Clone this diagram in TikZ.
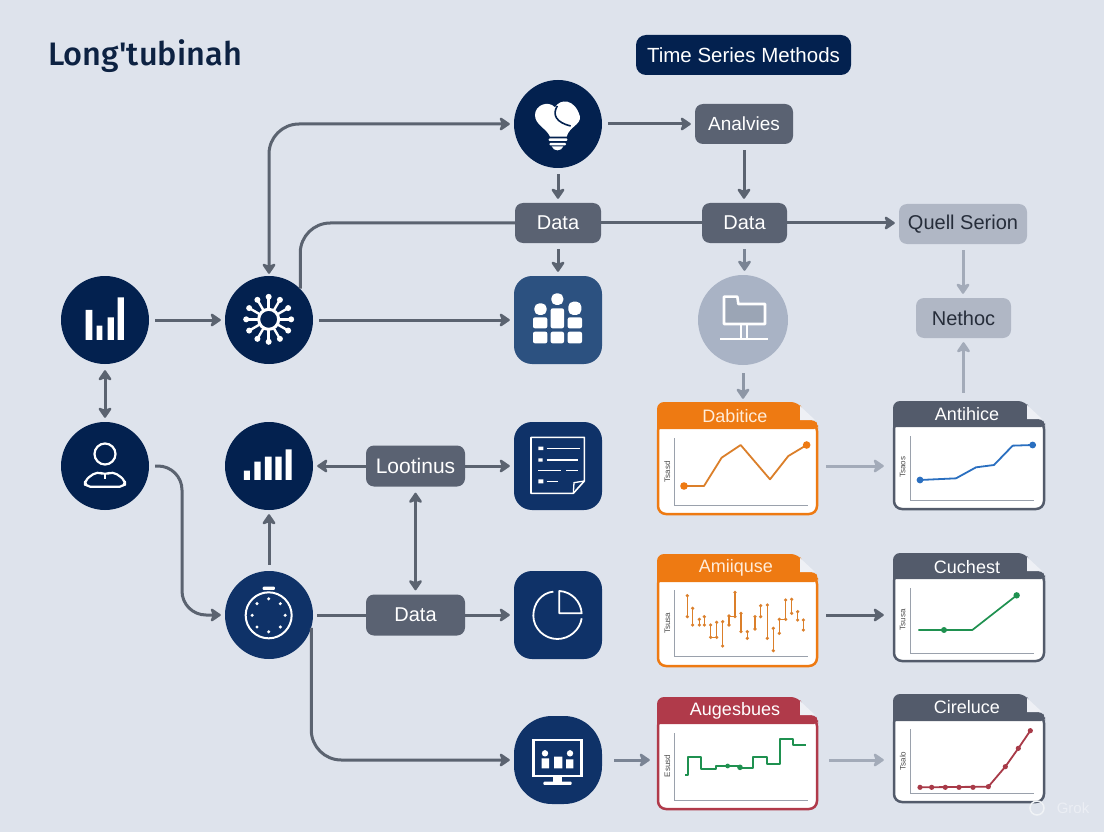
\documentclass[tikz,border=0pt]{standalone}
\usepackage{fontspec}
\setmainfont{Liberation Sans}
\newfontfamily\titlefont{Fira Sans Medium}
\usetikzlibrary{arrows.meta,backgrounds}
\definecolor{bgc}{HTML}{DEE3EC}
\definecolor{navy}{HTML}{03214F}
\definecolor{navyb}{HTML}{0F3268}
\definecolor{navyc}{HTML}{2C5180}
\definecolor{inkt}{HTML}{0D2242}
\definecolor{inkq}{HTML}{262D3A}
\definecolor{greyb}{HTML}{5A6272}
\definecolor{greyc}{HTML}{A9B3C5}
\definecolor{greyd}{HTML}{B0B7C5}
\definecolor{lnk}{HTML}{5B6370}
\definecolor{lnkm}{HTML}{7A8494}
\definecolor{lnkf}{HTML}{8E97A6}
\definecolor{lnkl}{HTML}{A3ABB9}
\definecolor{orng}{HTML}{EE7A12}
\definecolor{redd}{HTML}{B03A4A}
\definecolor{hdrg}{HTML}{535B6B}
\definecolor{foldc}{HTML}{EEF0F5}
\definecolor{chorng}{HTML}{DB7F2A}
\definecolor{chblue}{HTML}{2A6FC0}
\definecolor{chgreen}{HTML}{1F9150}
\definecolor{chred}{HTML}{A83A48}
\definecolor{axisc}{HTML}{9AA1AC}
\tikzset{
  x=1pt,y=-1pt,
  >={Stealth[length=12pt,width=16pt,inset=3pt,round]},
  zm/.style 2 args={shift={(#1,#2)},x=0.33333pt,y=-0.33333pt},
  conn/.style={draw=lnk,line width=3pt,->,shorten >=4pt,shorten <=6pt},
  plain/.style={draw=lnk,line width=3pt},
  iconc/.style={circle,minimum size=88pt,inner sep=0pt,fill=navy},
  icons/.style={rectangle,rounded corners=18pt,minimum size=88pt,inner sep=0pt,fill=navyb},
  tagbox/.style={rectangle,rounded corners=8pt,fill=greyb,text=white,inner sep=0pt,font=\fontsize{20}{24}\selectfont},
  wline/.style={draw=white,line width=2pt},
  ylab/.style={rotate=90,font=\fontsize{8}{9}\selectfont,text=black!70,inner sep=0pt},
  axisl/.style={draw=axisc,line width=1pt},
  cardtitle/.style={font=\fontsize{18}{22}\selectfont,inner sep=0pt},
}
\newcommand{\chartbox}[7]{%
  \node[inner sep=0pt,minimum width={#4-#2},minimum height={#5-#3}] (#1) at ({(#2+#4)/2},{(#3+#5)/2}) {};
  \filldraw[fill=white,draw=#7,line width=2.5pt,rounded corners=8pt] (#2+1,#6-6) rectangle (#4-1,#5-1);
  \fill[#7,rounded corners=7pt] (#2,#6) -- (#2,#3) -- (#4-20,#3) [sharp corners] -- (#4-18,#3+3) -- (#4-18,#3+18) [rounded corners=4pt] -- (#4-3,#3+18) -- (#4,#3+23) -- (#4,#6) [sharp corners] -- cycle;
  \fill[foldc] (#4-18,#3+4) -- (#4-18,#3+18) -- (#4-3,#3+18) -- cycle;
}
\begin{document}
\begin{tikzpicture}
\useasboundingbox (0,0) rectangle (1104,832);
\fill[bgc] (0,0) rectangle (1104,832);
% title
\node[anchor=west,inner sep=0pt,text=inkt,font=\titlefont\fontsize{32.5}{36}\selectfont] (ttl) at (48,56) {Long'tubinah};
\node[rectangle,rounded corners=10pt,fill=navy,text=white,inner sep=0pt,minimum width=215pt,minimum height=40pt,font=\fontsize{20.5}{26}\selectfont] (tsm) at (743.5,55) {Time Series Methods};
% icon holders
\node[iconc] (c1) at (105,320) {};
\node[iconc] (c2) at (269,320) {};
\node[iconc] (c3) at (558,124) {};
\node[iconc] (c4) at (105,466) {};
\node[iconc] (c5) at (269,466) {};
\node[iconc,fill=navyb] (c6) at (269,615) {};
\node[iconc,fill=greyc,minimum size=90pt] (fold) at (743,320) {};
\node[icons,fill=navyc] (s1) at (558,320) {};
\node[icons] (s2) at (558,466) {};
\node[icons] (s3) at (558,615) {};
\node[icons,rounded corners=38pt] (s4) at (558,760) {};
% tag boxes
\node[tagbox,minimum width=98pt,minimum height=40pt,font=\fontsize{19}{24}\selectfont] (ana) at (744,124) {Analvies};
\node[tagbox,minimum width=86pt,minimum height=40pt] (d1) at (558,223) {Data};
\node[tagbox,minimum width=85pt,minimum height=40pt] (d2) at (744.5,223) {Data};
\node[tagbox,fill=greyd,text=inkq,minimum width=128pt,minimum height=40pt] (quell) at (963,224) {Quell Serion};
\node[tagbox,fill=greyd,text=inkq,minimum width=95pt,minimum height=40pt] (neth) at (963.5,318) {Nethoc};
\node[tagbox,minimum width=99pt,minimum height=41pt,font=\fontsize{21}{24}\selectfont] (loot) at (415.5,466) {Lootinus};
\node[tagbox,minimum width=99pt,minimum height=41pt] (d3) at (415.5,615) {Data};
% chart cards
\chartbox{chA}{657}{402}{818}{515}{429}{orng}
\node[text=orange!15!white,cardtitle] (chAt) at (735,416) {Dabitice};
\chartbox{chB}{893}{401}{1045}{510}{427}{hdrg}
\node[text=white,cardtitle] (chBt) at (967,414) {Antihice};
\chartbox{chC}{657}{554}{818}{667}{582}{orng}
\node[text=orange!15!white,cardtitle] (chCt) at (736,568) {Amiiquse};
\chartbox{chD}{893}{553}{1045}{662}{579}{hdrg}
\node[text=white,cardtitle] (chDt) at (967,567) {Cuchest};
\chartbox{chE}{657}{697}{818}{810}{724}{redd}
\node[text=white,cardtitle] (chEt) at (735,711) {Augesbues};
\chartbox{chF}{893}{694}{1045}{803}{721}{hdrg}
\node[text=white,cardtitle] (chFt) at (967,707) {Cireluce};
% connectors
\draw[conn,<->,rounded corners=30pt,shorten <=2pt] (c2.north) |- (c3.west);
\draw[plain,rounded corners=30pt] (c2.45) |- (d1.west);
\draw[plain] (d1.east) -- (d2.west);
\draw[conn,shorten <=0pt] (d2.east) -- (d2.east -| quell.west);
\draw[conn] (c1.east) -- (c2.west);
\draw[conn] (c2.east) -- (s1.west);
\draw[conn] (c3.east) -- (ana.west);
\draw[conn] (c3.south) -- (d1.north);
\draw[conn] (d1.south) -- (s1.north);
\draw[conn] (ana.south) -- (ana.south |- d2.north);
\draw[conn,draw=lnkm] (d2.south) -- (d2.south |- fold.north);
\draw[conn,draw=lnkf,shorten <=8pt,shorten >=3pt] (fold.south) -- (fold.south |- chA.north);
\draw[conn,draw=lnkl] (quell.south) -- (quell.south |- neth.north);
\draw[conn,draw=lnkl,shorten <=8pt,shorten >=4pt] (neth.south |- chB.north) -- (neth.south);
\draw[conn,draw=lnkl,shorten <=8pt,shorten >=9pt] ([yshift=-7.5pt]chA.east) -- ([yshift=-10.5pt]chB.west);
\draw[conn,shorten <=8pt,shorten >=9pt] ([yshift=-4.5pt]chC.east) -- ([yshift=-7.5pt]chD.west);
\draw[conn,draw=lnkl,shorten <=11pt,shorten >=9pt] ([yshift=-6.5pt]chE.east) -- ([yshift=-11.5pt]chF.west);
\draw[conn,draw=lnkm,shorten <=12pt,shorten >=7pt] (s4.east) -- ([yshift=-6.5pt]chE.west);
\draw[conn,<->] (c1.south) -- (c4.north);
\coordinate (bend) at (182,540);
\draw[conn,rounded corners=24pt] (c4.east) -| (bend) |- (c6.west);
\draw[conn] (c6.north) -- (c5.south);
\draw[conn,shorten <=0pt] (loot.west) -- (c5.east);
\draw[conn,shorten <=0pt] (loot.east) -- (s2.west);
\draw[conn,<->] (loot.south) -- (d3.north);
\draw[plain,shorten <=4pt] (c6.east) -- (d3.west);
\draw[conn,shorten <=0pt] (d3.east) -- (s3.west);
\draw[conn,rounded corners=30pt,shorten <=0pt] (c6.-17) |- (s4.west);
% icon bars c1
\begin{scope}[zm={40}{260}]
  \fill[white] (137,150) rectangle (157,240) (170,197) rectangle (187,240) (203,172) rectangle (222,240) (233,112) rectangle (252,240);
  % signal c5
  \fill[white] (612,632) rectangle (630,660) (643,605) rectangle (662,660) (675,590) rectangle (695,660) (706,590) rectangle (725,660) (737,568) rectangle (755,660);
  % virus c2
  \draw[white,line width=3pt] (686,178) circle [radius=10pt];
  \foreach \a in {0,30,...,330}{
    \draw[white,line width=2.4pt] (686,178) ++(\a:11pt) -- ++(\a:10pt);
    \fill[white] (686,178) ++(\a:22.5pt) circle [radius=3pt];
  }
  % person c4
  \draw[white,line width=2.2pt] (195,582) circle [radius=10.5pt];
  \draw[white,line width=2.2pt,line join=round,rounded corners=5pt] (135,680) -- (135,660) -- (172,634) -- (195,645) -- (218,634) -- (255,660) -- (255,680) -- cycle;
  \draw[white,line width=1.5pt] (195,640) -- (195,656);
  % timer c6
  \draw[white,line width=2pt] (686,1066) circle [radius=23pt];
  \fill[white,rounded corners=1pt] (668,980) rectangle (705,990);
  \foreach \a in {0,45,...,315}{
    \fill[white] (686,1066) ++(\a:16.5pt) circle [radius=1.7pt];
  }
\end{scope}
% bulb, tiles, folder
\begin{scope}[zm={500}{20}]
  \fill[white] (150,350) .. controls (140,325) and (105,315) .. (105,285) .. controls (105,255) and (145,240) .. (165,262) .. controls (180,235) and (225,235) .. (240,290) .. controls (242,315) and (208,320) .. (200,350) -- cycle;
  \draw[navy,line width=1.6pt] (172,258) .. controls (155,285) and (170,308) .. (212,318);
  \fill[white,rounded corners=1pt] (146,355) rectangle (202,363);
  \fill[white,rounded corners=1pt] (148,369) rectangle (198,376);
  \fill[white] (155,379) .. controls (160,395) and (185,395) .. (190,379) -- cycle;
  \fill[white,rounded corners=2pt] (99,935) rectangle (142,970) (152,935) rectangle (192,970) (203,935) rectangle (246,970)
    (99,892) rectangle (142,925) (152,865) rectangle (192,925) (203,892) rectangle (246,925);
  \fill[white,rounded corners=5pt] (103,850) rectangle (140,885) (205,845) rectangle (244,885) (154,820) rectangle (190,855);
  \filldraw[fill=greyc!92!black,draw=white,line width=2.6pt,line join=round] (672,852) -- (672,830) -- (712,830) -- (715,852) -- (795,852) -- (795,912) -- (672,912) -- cycle;
  \draw[white,line width=2.2pt] (722,912) -- (722,955) (740,912) -- (740,955);
  \draw[white,line width=2.6pt] (660,957) -- (803,957);
\end{scope}
% doc, pie, monitor
\begin{scope}[zm={500}{410}]
  \draw[white,line width=1.6pt,line join=round] (93,82) -- (253,82) -- (253,213) -- (220,250) -- (93,250) -- cycle;
  \draw[white,line width=1.3pt] (220,250) -- (222,218) -- (253,213);
  \draw[wline,line width=1.2pt] (140,115) -- (240,115) (140,150) -- (235,150) (115,182) -- (182,182) (198,182) -- (235,182) (140,215) -- (175,215);
  \fill[white] (115,110) rectangle (130,120) (115,145) rectangle (128,155) (115,208) rectangle (130,220);
  \draw[white,line width=1.8pt] (160,545) .. controls (125,548) and (100,580) .. (100,617) .. controls (100,655) and (133,687) .. (172,687) .. controls (208,687) and (240,660) .. (245,625);
  \draw[white,line width=1.8pt,line join=round] (178,610) -- (178,543) .. controls (215,545) and (243,575) .. (245,610) -- cycle;
  \draw[white,line width=2.8pt] (100,990) rectangle (245,1098);
  \fill[white] (160,1098) rectangle (185,1115);
  \fill[white,rounded corners=1pt] (130,1115) rectangle (215,1125);
  \fill[white] (135,1030) circle [radius=3.2pt] (210,1030) circle [radius=3.2pt];
  \fill[white] (125,1045) rectangle (147,1075) (162,1040) rectangle (187,1075) (198,1048) rectangle (220,1075);
\end{scope}
% chart contents, first two rows
\begin{scope}[zm={640}{390}]
  \draw[axisl] (103,145) -- (103,345) -- (503,345);
  \draw[chorng,line width=1.8pt,line join=round] (132,288) -- (192,288) -- (245,203) -- (302,165) -- (390,268) -- (445,198) -- (500,165);
  \fill[orng] (132,288) circle [radius=3.8pt] (500,165) circle [radius=3.8pt];
  \node[ylab] (ya) at (82,245) {Tsasd};
  \draw[axisl] (810,138) -- (810,332) -- (1183,332);
  \draw[chblue,line width=1.8pt,line join=round] (840,270) -- (948,265) -- (1008,232) -- (1062,225) -- (1118,167) -- (1178,165);
  \fill[chblue] (840,270) circle [radius=3.4pt] (1178,165) circle [radius=3.4pt];
  \node[ylab] (yb) at (788,232) {Tsaos};
  \draw[axisl] (103,600) -- (103,800) -- (503,800);
  \foreach \x/\p/\q in {142/617/680,158/655/705,178/688/705,193/680/705,212/705/742,230/697/742,248/695/768,267/678/705,285/607/680,303/670/725,322/725/745,345/680/717,362/647/680,382/645/745,400/715/782,418/688/730,437/630/688,455/628/670,473/665/690,490/690/720}{
    \draw[chorng,line width=1.3pt] (\x,\p) -- (\x,\q);
    \fill[chorng] (\x,\p) circle [radius=1.8pt] (\x,\q) circle [radius=1.8pt];
  }
  \draw[chorng,line width=1pt] (212,742) -- (230,742) (267,680) -- (285,680) (418,688) -- (437,688);
  \node[ylab] (yc) at (82,700) {Tsusa};
  \draw[axisl] (810,595) -- (810,790) -- (1183,790);
  \draw[chgreen,line width=1.7pt,line join=round] (835,720) -- (997,720) -- (1130,616);
  \fill[chgreen] (912,720) circle [radius=3pt] (1130,616) circle [radius=3.2pt];
  \node[ylab] (yd) at (788,690) {Tsusa};
\end{scope}
% chart contents, third row
\begin{scope}[zm={640}{680}]
  \draw[axisl] (103,160) -- (103,360) -- (503,360);
  \draw[chgreen,line width=1.8pt,line join=round] (135,285) -- (145,285) -- (145,232) -- (183,232) -- (183,268) -- (228,268) -- (228,258) -- (300,258) -- (300,265) -- (338,265) -- (338,232) -- (380,232) -- (380,253) -- (420,253) -- (420,177) -- (460,177) -- (460,195) -- (497,195);
  \fill[chgreen] (263,258) circle [radius=2.4pt] (300,262) circle [radius=2.8pt];
  \node[ylab] (ye) at (82,258) {Esusd};
  \draw[axisl] (810,148) -- (810,340) -- (1183,340);
  \draw[chred,line width=1.8pt,line join=round] (840,322) -- (1045,320) -- (1096,260) -- (1135,205) -- (1171,152);
  \foreach \x/\y in {840/322,875/322,916/322,957/322,999/322,1045/320,1096/260,1135/205,1171/152}{
    \fill[chred] (\x,\y) circle [radius=2.6pt];
  }
  \node[ylab] (yf) at (788,243) {Tsalo};
\end{scope}
% watermark
\draw[white!55!bgc,line width=1.5pt] (1037,808) circle [radius=7pt];
\node[text=white!40!bgc,font=\fontsize{15}{18}\selectfont,inner sep=0pt] (grok) at (1073,808) {Grok};
\end{tikzpicture}
\end{document}
